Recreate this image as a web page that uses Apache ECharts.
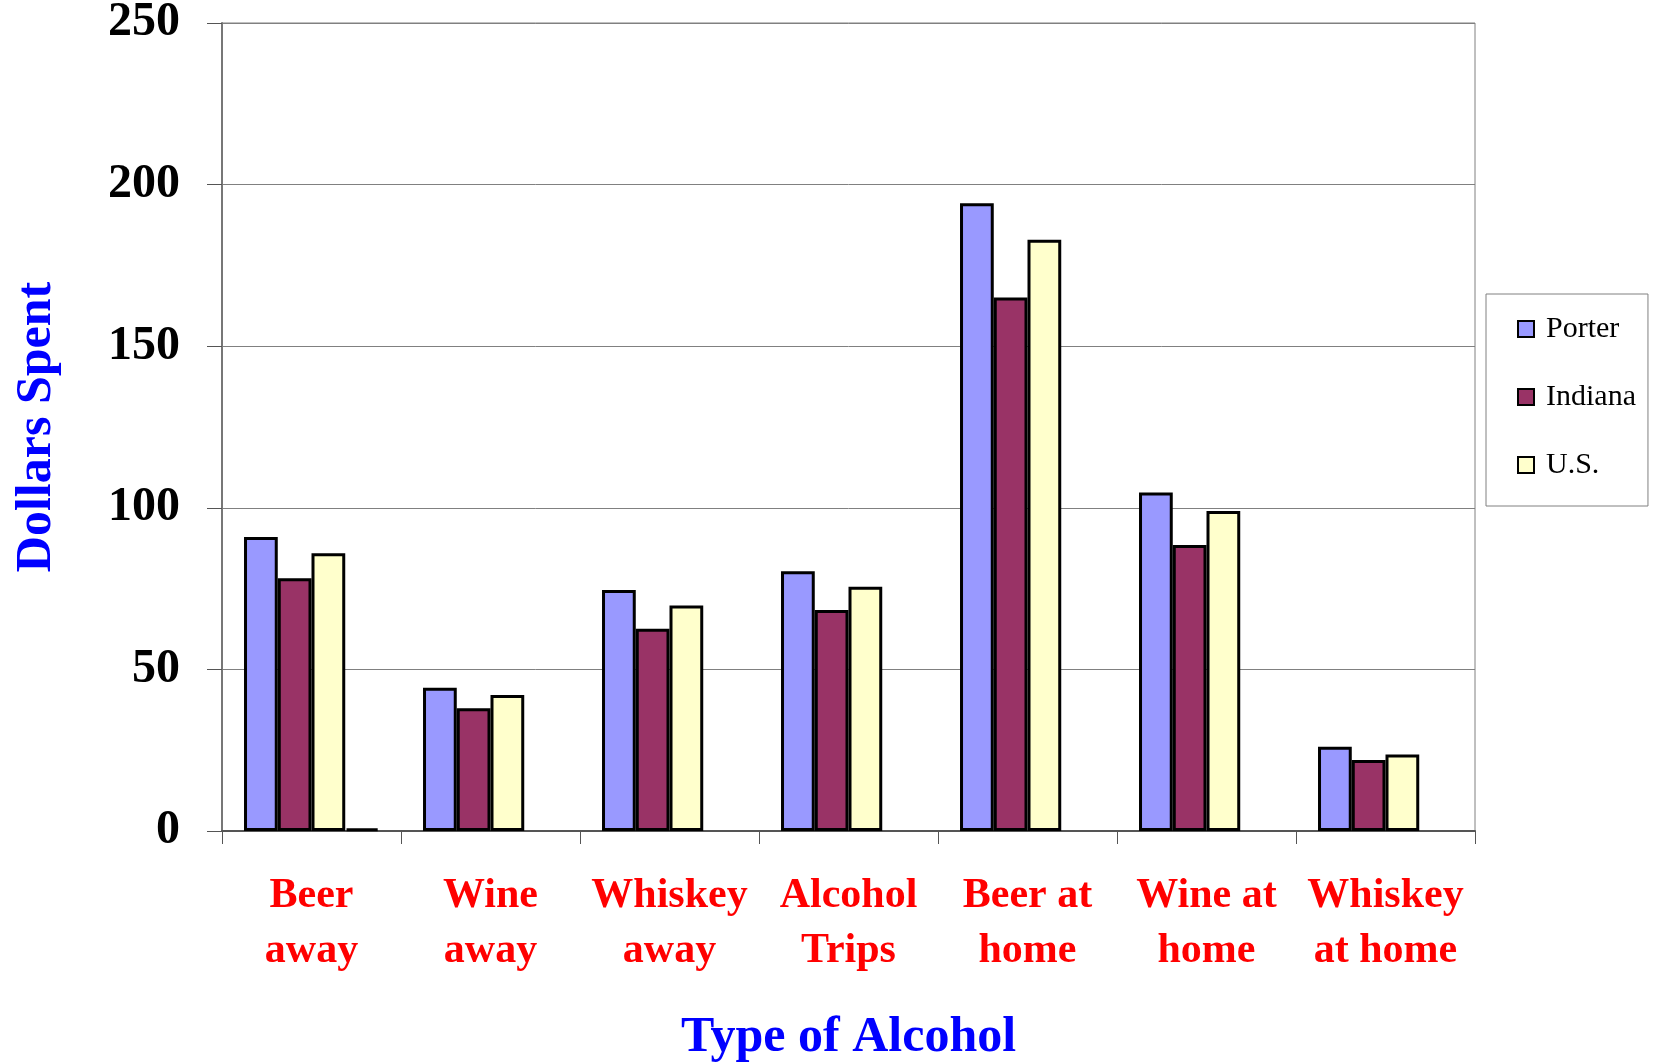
<!DOCTYPE html>
<html>
<head>
<meta charset="utf-8">
<script src="https://cdn.jsdelivr.net/npm/echarts@6/dist/echarts.min.js"></script>
<style>
  html, body { margin: 0; padding: 0; background: #fff; }
  #main { width: 1660px; height: 1062px; }
</style>
</head>
<body>
<div id="main"></div>
<script>
  // categories on the x axis
  var categories = ['Beer\naway', 'Wine\naway', 'Whiskey\naway', 'Alcohol\nTrips', 'Beer at\nhome', 'Wine at\nhome', 'Whiskey\nat home'];
  // dollars spent per series
  var porter  = [91.0, 44.3, 74.6, 80.4, 194.2, 104.7, 26.1];
  var indiana = [78.2, 38.0, 62.6, 68.4, 165.1, 88.5, 22.0];
  var us      = [85.9, 42.1, 69.8, 75.6, 182.9, 99.0, 23.7];
  // stray 4th series, only visible in first group
  var extra   = [0.8, null, null, null, null, null, null];
  var yTicks  = [0, 50, 100, 150, 200, 250];

  var serif = '"Liberation Serif", "Times New Roman", serif';
  var chart = echarts.init(document.getElementById('main'));

  function barSeries(name, data, color) {
    return {
      name: name,
      type: 'bar',
      data: data,
      barGap: '0%',
      barCategoryGap: '24.6%',
      itemStyle: { color: color, borderColor: '#000', borderWidth: 3 }
    };
  }

  var option = {
    backgroundColor: '#fff',
    animation: false,
    grid: {
      left: 222, right: 185, top: 23, bottom: 231,
      outerBoundsMode: 'none',
      show: true, borderColor: '#808080', borderWidth: 1
    },
    legend: {
      data: ['Porter', 'Indiana', 'U.S.'],
      orient: 'vertical',
      left: 1486, top: 294,
      padding: [20, 12, 26, 31],
      itemGap: 38,
      itemWidth: 16, itemHeight: 16,
      icon: 'rect',
      borderColor: '#808080', borderWidth: 1,
      textStyle: { fontFamily: serif, fontSize: 30, color: '#000', padding: [0, 0, 0, 7] }
    },
    xAxis: {
      type: 'category',
      data: categories,
      name: 'Type of Alcohol',
      nameLocation: 'middle',
      nameGap: 182,
      nameTextStyle: { fontFamily: serif, fontSize: 50, fontWeight: 'bold', color: '#0000FF' },
      axisLine: { lineStyle: { color: '#555', width: 2 } },
      axisTick: { show: true, length: 13, lineStyle: { color: '#555', width: 1 } },
      axisLabel: {
        interval: 0, margin: 38,
        fontFamily: serif, fontSize: 42, fontWeight: 'bold', color: '#FF0000', lineHeight: 55
      }
    },
    yAxis: {
      type: 'value',
      min: yTicks[0], max: yTicks[yTicks.length - 1], interval: 50,
      name: 'Dollars Spent',
      nameLocation: 'middle',
      nameGap: 160,
      nameRotate: 90,
      nameTextStyle: { fontFamily: serif, fontSize: 50, fontWeight: 'bold', color: '#0000FF' },
      axisLine: { show: true, lineStyle: { color: '#777', width: 2 } },
      axisTick: { show: true, length: 15, lineStyle: { color: '#555', width: 1 } },
      axisLabel: {
        margin: 42, fontFamily: serif, fontSize: 48, fontWeight: 'bold', color: '#000',
        padding: [16, 0, 0, 0]
      },
      splitLine: { lineStyle: { color: '#808080', width: 1 } }
    },
    series: [
      barSeries('Porter', porter, '#9999FF'),
      barSeries('Indiana', indiana, '#993366'),
      barSeries('U.S.', us, '#FFFFCC'),
      barSeries('', extra, '#CCFFFF')
    ]
  };

  option && chart.setOption(option);
</script>
</body>
</html>
